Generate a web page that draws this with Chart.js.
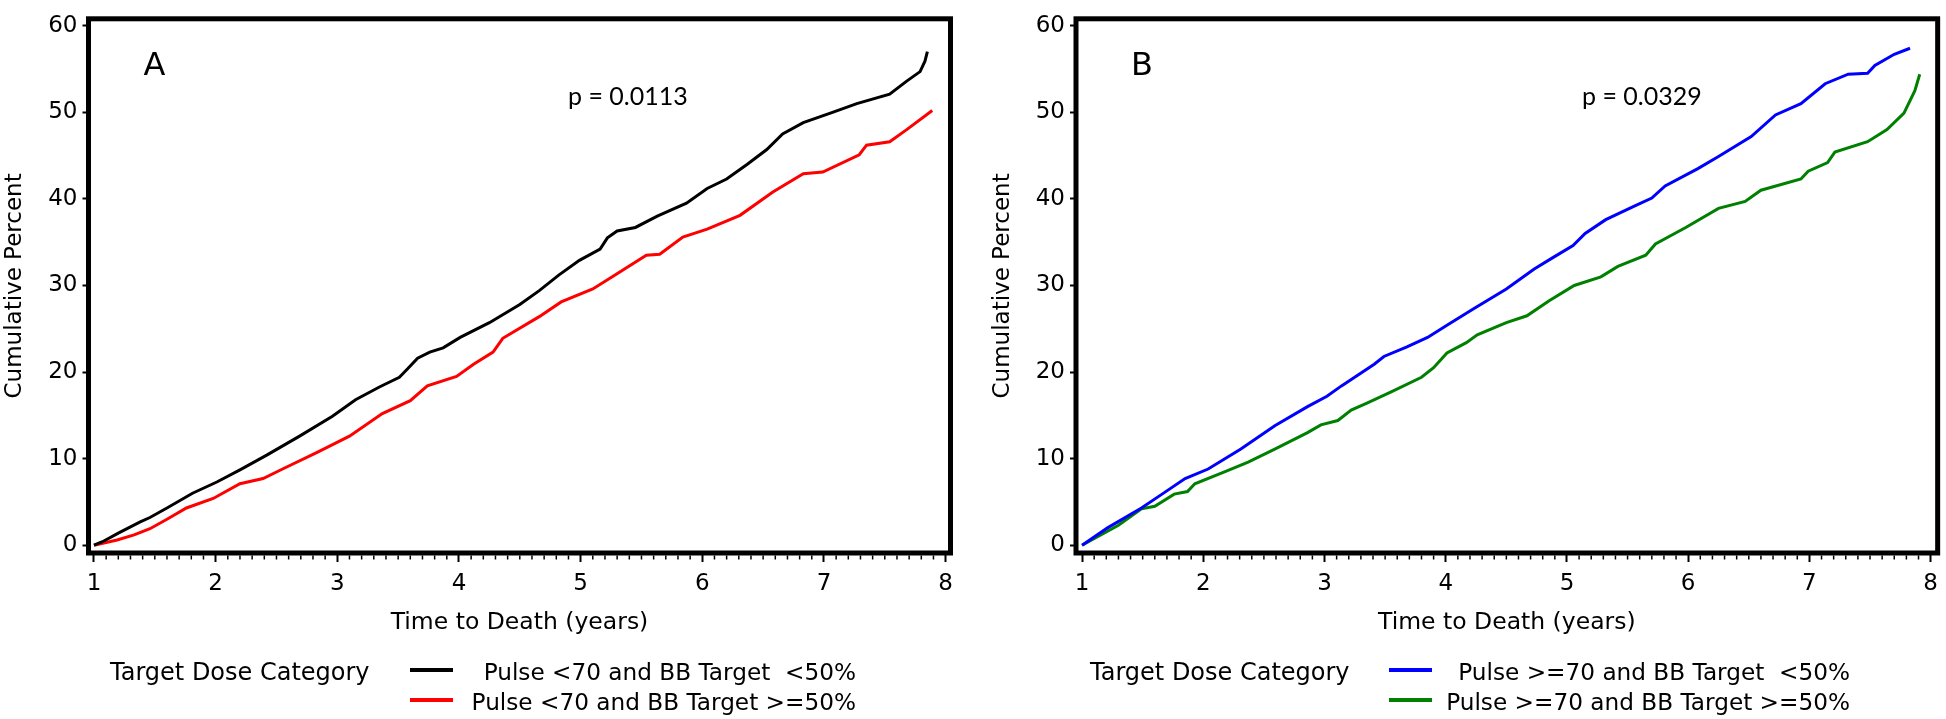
<!DOCTYPE html>
<html>
<head>
<meta charset="utf-8">
<script src="https://cdn.jsdelivr.net/npm/chart.js@4.4.0/dist/chart.umd.min.js"></script>
<style>
  body { margin: 0; background: #fff; width: 1946px; height: 719px; overflow: hidden; position: relative; font-family: "DejaVu Sans", sans-serif; }
  canvas { position: absolute; top: 0; }
  #cA { left: 0; }
  #cB { left: 988px; }
  .leg { position: absolute; font-size: 23.2px; line-height: 30px; color: #000; white-space: pre; }
  .legtitle { font-size: 24px; }
  .swatch { position: absolute; height: 4px; }
</style>
</head>
<body>
<canvas id="cA" width="988" height="719"></canvas>
<canvas id="cB" width="958" height="719"></canvas>
<script>
// Panel A
const timeA1 = [1.0, 1.07, 1.2, 1.38, 1.46, 1.6, 1.81, 2.01, 2.2, 2.42, 2.69, 2.96, 3.15, 3.35, 3.51, 3.58, 3.66, 3.76, 3.87, 4.01, 4.25, 4.5, 4.66, 4.82, 4.99, 5.16, 5.22, 5.3, 5.45, 5.63, 5.87, 6.04, 6.2, 6.37, 6.53, 6.66, 6.83, 7.07, 7.27, 7.54, 7.68, 7.79, 7.83, 7.85];
const pctA1  = [0, 0.4, 1.4, 2.7, 3.2, 4.3, 6.0, 7.3, 8.7, 10.4, 12.6, 14.9, 16.8, 18.3, 19.4, 20.4, 21.6, 22.3, 22.8, 24.0, 25.7, 27.8, 29.4, 31.2, 32.9, 34.2, 35.5, 36.3, 36.7, 38.0, 39.5, 41.2, 42.3, 44.0, 45.7, 47.5, 48.8, 50.0, 51.0, 52.1, 53.6, 54.7, 55.9, 57.0];
const timeA2 = [1.0, 1.19, 1.33, 1.46, 1.6, 1.76, 1.98, 2.2, 2.39, 2.55, 2.83, 3.1, 3.37, 3.6, 3.74, 3.98, 4.12, 4.28, 4.36, 4.66, 4.84, 5.1, 5.26, 5.54, 5.65, 5.84, 6.04, 6.31, 6.58, 6.83, 6.99, 7.29, 7.35, 7.54, 7.68, 7.89];
const pctA2  = [0, 0.6, 1.2, 1.9, 3.0, 4.3, 5.4, 7.1, 7.7, 8.8, 10.7, 12.6, 15.2, 16.7, 18.4, 19.5, 20.9, 22.3, 23.9, 26.4, 28.1, 29.6, 31.0, 33.5, 33.6, 35.6, 36.5, 38.1, 40.8, 42.9, 43.1, 45.1, 46.2, 46.6, 48.0, 50.2];
// Panel B
const timeB1 = [1.0, 1.21, 1.49, 1.66, 1.85, 2.04, 2.31, 2.59, 2.86, 3.02, 3.14, 3.41, 3.49, 3.68, 3.85, 4.01, 4.23, 4.5, 4.73, 4.87, 5.05, 5.15, 5.32, 5.56, 5.7, 5.81, 6.08, 6.25, 6.52, 6.72, 6.93, 7.13, 7.32, 7.48, 7.54, 7.7, 7.83];
const pctB1  = [0, 2.0, 4.3, 5.9, 7.7, 8.8, 11.1, 13.8, 16.0, 17.2, 18.4, 20.9, 21.8, 22.9, 24.0, 25.4, 27.3, 29.6, 31.9, 33.1, 34.6, 36.0, 37.6, 39.2, 40.1, 41.5, 43.5, 44.9, 47.2, 49.7, 51.0, 53.3, 54.4, 54.5, 55.4, 56.7, 57.4];
const timeB2 = [1.0, 1.3, 1.49, 1.6, 1.76, 1.87, 1.93, 2.18, 2.37, 2.59, 2.86, 2.97, 3.11, 3.22, 3.35, 3.55, 3.8, 3.9, 4.01, 4.17, 4.26, 4.5, 4.67, 4.85, 5.06, 5.28, 5.42, 5.65, 5.73, 5.98, 6.25, 6.47, 6.6, 6.93, 6.99, 7.15, 7.21, 7.48, 7.64, 7.78, 7.87, 7.91];
const pctB2  = [0, 2.3, 4.2, 4.5, 5.9, 6.2, 7.1, 8.5, 9.6, 11.1, 13.0, 13.9, 14.4, 15.6, 16.4, 17.7, 19.4, 20.5, 22.2, 23.4, 24.3, 25.7, 26.5, 28.2, 30.0, 31.0, 32.2, 33.5, 34.8, 36.7, 38.9, 39.7, 41.0, 42.3, 43.2, 44.2, 45.4, 46.6, 48.0, 49.9, 52.5, 54.4];

const xTicks = [1, 2, 3, 4, 5, 6, 7, 8];
const yTicks = [0, 10, 20, 30, 40, 50, 60];
const labelsA = [' Pulse <70 and BB Target  <50%', 'Pulse <70 and BB Target >=50%'];
const labelsB = [' Pulse >=70 and BB Target  <50%', 'Pulse >=70 and BB Target >=50%'];
const colorsA = ['#000000', '#ff0000'];
const colorsB = ['#0000ff', '#008000'];

Chart.defaults.font.family = '"DejaVu Sans", sans-serif';
Chart.defaults.color = '#000';

const zip = (xs, ys) => xs.map((x, i) => ({x: x, y: ys[i]}));

// box frame, minor x ticks, panel letter and p value
const frame = {
  id: 'frame',
  afterDraw(chart, args, opts) {
    const {ctx, chartArea: a} = chart;
    const x = chart.scales.x;
    ctx.save();
    ctx.strokeStyle = '#000';
    ctx.lineWidth = 1.5;
    for (let i = 11; i < 80; i++) {
      if (i % 10 === 0) continue;
      const px = x.getPixelForValue(i / 10);
      ctx.beginPath();
      ctx.moveTo(px, a.bottom + 2.5);
      ctx.lineTo(px, a.bottom + 6.5);
      ctx.stroke();
    }
    ctx.lineWidth = 5;
    ctx.strokeRect(a.left, a.top, a.right - a.left, a.bottom - a.top);
    ctx.fillStyle = '#000';
    ctx.textBaseline = 'alphabetic';
    ctx.font = '32px "DejaVu Sans"';
    ctx.fillText(opts.letter, a.left + opts.letterDx, 75);
    ctx.font = '25px Lato';
    ctx.fillText(opts.pText, a.left + opts.pDx, 105);
    ctx.restore();
  }
};

function makeChart(id, series, labels, colors, p) {
  return new Chart(document.getElementById(id), {
    type: 'line',
    data: {
      datasets: series.map((s, i) => ({
        label: labels[i],
        data: zip(s[0], s[1]),
        borderColor: colors[i],
        borderWidth: 3,
        pointRadius: 0,
        tension: 0,
        fill: false
      }))
    },
    options: {
      responsive: false,
      animation: false,
      layout: { padding: { left: 0, right: p.padRight, top: 5.8, bottom: 78 } },
      plugins: {
        legend: { display: false },
        tooltip: { enabled: false },
        frame: { letter: p.letter, letterDx: 55, pText: p.pText, pDx: p.pDx }
      },
      scales: {
        x: {
          type: 'linear',
          min: p.xMin, max: p.xMax,
          afterBuildTicks: s => { s.ticks = xTicks.map(v => ({value: v})); },
          afterFit: s => { s.height = 88; },
          ticks: { font: { size: 23 }, padding: 8, maxRotation: 0, autoSkip: false },
          grid: { drawOnChartArea: false, tickLength: 9, tickWidth: 2, tickColor: '#000' },
          border: { display: false },
          title: { display: true, text: 'Time to Death (years)', font: { size: 23.5 }, padding: { top: 0, bottom: 4 } }
        },
        y: {
          type: 'linear',
          min: -0.9, max: 60.8,
          afterBuildTicks: s => { s.ticks = yTicks.map(v => ({value: v})); },
          afterFit: s => { s.width = p.yWidth; },
          ticks: { font: { size: 23 }, padding: 5 },
          grid: { drawOnChartArea: false, tickLength: 6, tickWidth: 2, tickColor: '#000' },
          border: { display: false },
          title: { display: true, text: 'Cumulative Percent', font: { size: 23 }, padding: { top: 1, bottom: 0 } }
        }
      }
    },
    plugins: [frame]
  });
}

makeChart('cA', [[timeA1, pctA1], [timeA2, pctA2]], labelsA, colorsA,
  { letter: 'A', pText: 'p = 0.0113', pDx: 479.5, xMin: 0.955, xMax: 8.04, padRight: 37.5, yWidth: 88.5 });
makeChart('cB', [[timeB1, pctB1], [timeB2, pctB2]], labelsB, colorsB,
  { letter: 'B', pText: 'p = 0.0329', pDx: 506, xMin: 0.95, xMax: 8.058, padRight: 6.5, yWidth: 88 });

function legend(titleLeft, swLeft, textRight, labels, colors) {
  const t = document.createElement('div');
  t.className = 'leg legtitle';
  t.style.left = titleLeft + 'px';
  t.style.top = '657px';
  t.textContent = 'Target Dose Category';
  document.body.appendChild(t);
  labels.forEach((lab, i) => {
    const sw = document.createElement('div');
    sw.className = 'swatch';
    sw.style.left = swLeft + 'px';
    sw.style.width = '43px';
    sw.style.top = (668 + 30 * i) + 'px';
    sw.style.background = colors[i];
    document.body.appendChild(sw);
    const d = document.createElement('div');
    d.className = 'leg';
    d.style.right = (1946 - textRight) + 'px';
    d.style.top = (657 + 30 * i) + 'px';
    d.textContent = lab;
    document.body.appendChild(d);
  });
}
legend(110, 410, 856, labelsA, colorsA);
legend(1090, 1389, 1850, labelsB, colorsB);
</script>
</body>
</html>
